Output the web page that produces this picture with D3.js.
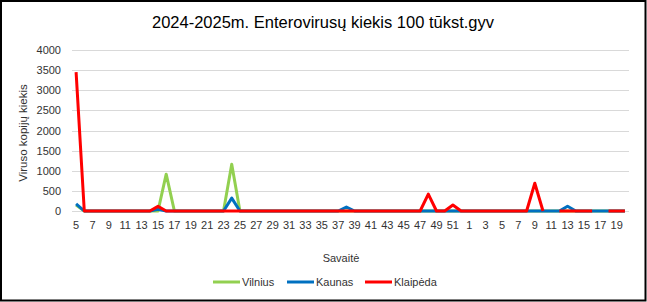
<!DOCTYPE html>
<html>
<head>
<meta charset="utf-8">
<script src="https://cdn.jsdelivr.net/npm/d3@7"></script>
<style>
  body { margin: 0; background: #fff; }
  svg { display: block; font-family: "Liberation Sans", Arial, sans-serif; }
</style>
</head>
<body>
<div class="chart-container"></div>
<script>
// savaitės: 2024 m. 5-52, 2025 m. 1-20
const weeks = [5, 6, 7, 8, 9, 10, 11, 12, 13, 14, 15, 16, 17, 18, 19, 20, 21, 22, 23, 24, 25, 26, 27, 28,
    29, 30, 31, 32, 33, 34, 35, 36, 37, 38, 39, 40, 41, 42, 43, 44, 45, 46, 47, 48, 49, 50, 51, 52,
    1, 2, 3, 4, 5, 6, 7, 8, 9, 10, 11, 12, 13, 14, 15, 16, 17, 18, 19, 20];

const vilnius = [150, 0, 0, 0, 0, 0, 0, 0, 0, 0, 0, 915, 0, 0, 0, 0, 0, 0, 0, 1160, 0, 0, 0, 0,
    0, 0, 0, 0, 0, 0, 0, 0, 0, 0, 0, 0, 0, 0, 0, 0, 0, 0, 0, 0, 0, 0, 0, 0,
    0, 0, 0, 0, 0, 0, 0, 0, 0, 0, 0, 0, 0, 0, 0, 0, 0, 0, 0, 0];

const kaunas = [180, 0, 0, 0, 0, 0, 0, 0, 0, 0, 40, 0, 0, 0, 0, 0, 0, 0, 0, 320, 0, 0, 0, 0,
    0, 0, 0, 0, 0, 0, 0, 0, 0, 100, 0, 0, 0, 0, 0, 0, 0, 0, 0, 0, 0, 0, 0, 0,
    0, 0, 0, 0, 0, 0, 0, 0, 0, 0, 0, 0, 120, 0, 0, 0, 0, 0, 0, 0];

const klaipeda = [3450, 0, 0, 0, 0, 0, 0, 0, 0, 0, 115, 0, 0, 0, 0, 0, 0, 0, 0, 0, 0, 0, 0, 0,
    0, 0, 0, 0, 0, 0, 0, 0, 0, 0, 0, 0, 0, 0, 0, 0, 0, 0, 0, 420, 0, 0, 150, 0,
    0, 0, 0, 0, 0, 0, 0, 0, 690, 0, null, 0, 0, 0, 0, 0, null, 0, 0, 0];

const seriesNames = ['Vilnius', 'Kaunas', 'Klaipėda'];
const seriesColors = ['#92d050', '#0070c0', '#ff0000'];
const yTicks = [0, 500, 1000, 1500, 2000, 2500, 3000, 3500, 4000];

const width = 647, height = 302;
const margin = { top: 50, right: 18, bottom: 91, left: 72 };
const innerWidth = width - margin.left - margin.right;
const innerHeight = height - margin.top - margin.bottom;

const svg = d3.select('.chart-container')
    .append('svg')
    .attr('width', width)
    .attr('height', height);

svg.append('rect')
    .attr('x', 1).attr('y', 1)
    .attr('width', width - 2.5).attr('height', height - 2.5)
    .attr('fill', 'none')
    .attr('stroke', '#000')
    .attr('stroke-width', 2);

// pavadinimas
svg.append('text')
    .attr('x', 323)
    .attr('y', 28)
    .attr('text-anchor', 'middle')
    .attr('font-size', 16.5)
    .attr('fill', '#000')
    .text('2024-2025m. Enterovirusų kiekis 100 tūkst.gyv');

// skalės (absoliučios koordinatės)
const xScale = d3.scalePoint()
    .domain(d3.range(weeks.length))
    .range([margin.left, margin.left + innerWidth])
    .padding(0.5);

const yScale = d3.scaleLinear()
    .domain([0, 4000])
    .range([margin.top + innerHeight, margin.top]);

// tinklelis
svg.selectAll('.grid')
    .data(yTicks)
    .enter()
    .append('line')
    .attr('class', 'grid')
    .attr('x1', margin.left)
    .attr('x2', margin.left + innerWidth)
    .attr('y1', d => Math.round(yScale(d)) + 0.5)
    .attr('y2', d => Math.round(yScale(d)) + 0.5)
    .attr('stroke', '#d9d9d9')
    .attr('stroke-width', 1);

// ašių žymės
svg.selectAll('.y-label')
    .data(yTicks)
    .enter()
    .append('text')
    .attr('class', 'y-label')
    .attr('x', margin.left - 11)
    .attr('y', d => yScale(d) + 4)
    .attr('text-anchor', 'end')
    .attr('font-size', 11)
    .attr('fill', '#333')
    .text(d3.format('d'));

svg.selectAll('.x-label')
    .data(d3.range(0, weeks.length, 2))
    .enter()
    .append('text')
    .attr('class', 'x-label')
    .attr('x', i => xScale(i))
    .attr('y', margin.top + innerHeight + 18)
    .attr('text-anchor', 'middle')
    .attr('font-size', 11)
    .attr('fill', '#333')
    .text(i => weeks[i]);

// ašių pavadinimai
svg.append('text')
    .attr('transform', 'translate(27,133) rotate(-90)')
    .attr('text-anchor', 'middle')
    .attr('font-size', 11.5)
    .attr('fill', '#333')
    .text('Viruso kopijų kiekis');

svg.append('text')
    .attr('x', 341)
    .attr('y', 262)
    .attr('text-anchor', 'middle')
    .attr('font-size', 11)
    .attr('fill', '#333')
    .text('Savaitė');

// linijos
const allSeries = [vilnius, kaunas, klaipeda];
const line = d3.line()
    .defined(d => d != null)
    .x((d, i) => xScale(i))
    .y(d => yScale(d));

allSeries.forEach((values, k) => {
    svg.append('path')
        .datum(values)
        .attr('fill', 'none')
        .attr('stroke', seriesColors[k])
        .attr('stroke-width', 3)
        .attr('stroke-linejoin', 'round')
        .attr('d', line);
});

// legenda
const legendX = [213, 287, 365];
seriesNames.forEach((name, k) => {
    svg.append('line')
        .attr('x1', legendX[k]).attr('x2', legendX[k] + 27)
        .attr('y1', 282).attr('y2', 282)
        .attr('stroke', seriesColors[k])
        .attr('stroke-width', 3);
    svg.append('text')
        .attr('x', legendX[k] + 29)
        .attr('y', 286)
        .attr('font-size', 11)
        .attr('fill', '#333')
        .text(name);
});
</script>
</body>
</html>
